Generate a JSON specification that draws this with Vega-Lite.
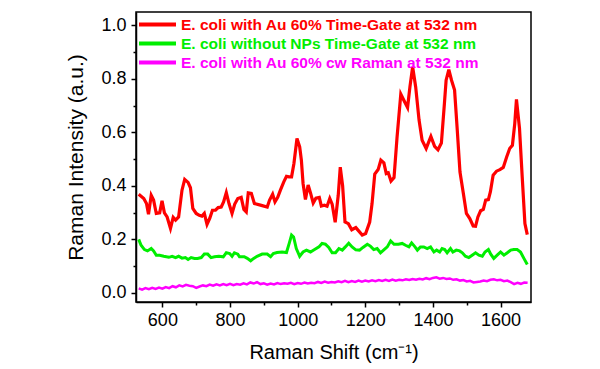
{
  "$schema": "https://vega.github.io/schema/vega-lite/v6.json",
  "width": 395,
  "height": 290,
  "autosize": {"type": "none"},
  "padding": {"left": 136, "top": 12, "right": 69, "bottom": 67},
  "background": "white",
  "config": {
    "view": {"stroke": "black", "strokeWidth": 1.5},
    "axis": {
      "domainColor": "black", "domainWidth": 1.5, "tickColor": "black", "tickWidth": 1.5,
      "labelColor": "black", "titleColor": "black", "grid": false,
      "labelFont": "Liberation Sans", "labelFontSize": 18,
      "titleFont": "Liberation Sans", "titleFontSize": 20, "titleFontWeight": "normal"
    },
    "legend": {
      "labelFont": "Liberation Sans", "labelFontSize": 15.5, "labelFontWeight": "bold"
    }
  },
  "datasets": {
    "red": [
      {"x":530,"y":0.369},{"x":545,"y":0.353},{"x":553,"y":0.334},{"x":559,"y":0.294},{"x":567,"y":0.365},{"x":574,"y":0.347},{"x":582,"y":0.297},{"x":592,"y":0.299},{"x":599,"y":0.344},{"x":606,"y":0.299},{"x":614,"y":0.284},{"x":624,"y":0.241},{"x":632,"y":0.282},{"x":639,"y":0.272},{"x":648,"y":0.284},{"x":658,"y":0.384},{"x":666,"y":0.424},{"x":676,"y":0.413},{"x":683,"y":0.393},{"x":690,"y":0.316},{"x":700,"y":0.297},{"x":709,"y":0.29},{"x":717,"y":0.287},{"x":724,"y":0.297},{"x":732,"y":0.256},{"x":740,"y":0.278},{"x":748,"y":0.309},{"x":757,"y":0.309},{"x":765,"y":0.319},{"x":774,"y":0.321},{"x":781,"y":0.34},{"x":789,"y":0.375},{"x":797,"y":0.334},{"x":806,"y":0.297},{"x":814,"y":0.332},{"x":823,"y":0.353},{"x":833,"y":0.357},{"x":841,"y":0.312},{"x":848,"y":0.303},{"x":854,"y":0.374},{"x":863,"y":0.372},{"x":872,"y":0.334},{"x":890,"y":0.328},{"x":910,"y":0.321},{"x":917,"y":0.347},{"x":926,"y":0.369},{"x":933,"y":0.34},{"x":941,"y":0.357},{"x":949,"y":0.384},{"x":959,"y":0.415},{"x":967,"y":0.436},{"x":974,"y":0.434},{"x":982,"y":0.434},{"x":989,"y":0.484},{"x":998,"y":0.577},{"x":1006,"y":0.546},{"x":1011,"y":0.496},{"x":1016,"y":0.409},{"x":1023,"y":0.349},{"x":1031,"y":0.403},{"x":1038,"y":0.374},{"x":1046,"y":0.336},{"x":1054,"y":0.354},{"x":1064,"y":0.357},{"x":1070,"y":0.325},{"x":1079,"y":0.328},{"x":1087,"y":0.324},{"x":1095,"y":0.353},{"x":1102,"y":0.332},{"x":1111,"y":0.264},{"x":1120,"y":0.365},{"x":1126,"y":0.47},{"x":1133,"y":0.4},{"x":1140,"y":0.265},{"x":1150,"y":0.259},{"x":1160,"y":0.236},{"x":1172,"y":0.244},{"x":1181,"y":0.231},{"x":1191,"y":0.216},{"x":1201,"y":0.222},{"x":1213,"y":0.265},{"x":1220,"y":0.334},{"x":1228,"y":0.444},{"x":1238,"y":0.461},{"x":1246,"y":0.496},{"x":1255,"y":0.486},{"x":1262,"y":0.446},{"x":1268,"y":0.449},{"x":1276,"y":0.418},{"x":1285,"y":0.431},{"x":1294,"y":0.583},{"x":1305,"y":0.743},{"x":1314,"y":0.72},{"x":1325,"y":0.693},{"x":1332,"y":0.77},{"x":1340,"y":0.845},{"x":1349,"y":0.77},{"x":1359,"y":0.646},{"x":1368,"y":0.571},{"x":1380,"y":0.54},{"x":1394,"y":0.585},{"x":1405,"y":0.548},{"x":1415,"y":0.535},{"x":1425,"y":0.56},{"x":1434,"y":0.708},{"x":1439,"y":0.795},{"x":1447,"y":0.835},{"x":1455,"y":0.795},{"x":1464,"y":0.758},{"x":1472,"y":0.608},{"x":1480,"y":0.452},{"x":1490,"y":0.372},{"x":1499,"y":0.297},{"x":1509,"y":0.278},{"x":1519,"y":0.25},{"x":1526,"y":0.249},{"x":1533,"y":0.284},{"x":1541,"y":0.307},{"x":1549,"y":0.312},{"x":1556,"y":0.347},{"x":1564,"y":0.349},{"x":1570,"y":0.378},{"x":1578,"y":0.44},{"x":1588,"y":0.455},{"x":1598,"y":0.461},{"x":1608,"y":0.469},{"x":1618,"y":0.508},{"x":1627,"y":0.54},{"x":1635,"y":0.552},{"x":1642,"y":0.633},{"x":1647,"y":0.723},{"x":1656,"y":0.615},{"x":1664,"y":0.434},{"x":1672,"y":0.259},{"x":1679,"y":0.218}
    ],
    "green": [
      {"x":530,"y":0.2},{"x":537,"y":0.178},{"x":547,"y":0.162},{"x":556,"y":0.157},{"x":567,"y":0.166},{"x":574,"y":0.157},{"x":582,"y":0.141},{"x":592,"y":0.141},{"x":604,"y":0.137},{"x":619,"y":0.133},{"x":629,"y":0.137},{"x":639,"y":0.132},{"x":648,"y":0.137},{"x":658,"y":0.13},{"x":668,"y":0.132},{"x":676,"y":0.125},{"x":685,"y":0.132},{"x":695,"y":0.129},{"x":704,"y":0.129},{"x":715,"y":0.132},{"x":724,"y":0.145},{"x":734,"y":0.145},{"x":744,"y":0.132},{"x":754,"y":0.135},{"x":767,"y":0.137},{"x":780,"y":0.135},{"x":789,"y":0.15},{"x":799,"y":0.147},{"x":806,"y":0.137},{"x":813,"y":0.15},{"x":823,"y":0.145},{"x":828,"y":0.135},{"x":842,"y":0.135},{"x":851,"y":0.129},{"x":861,"y":0.12},{"x":870,"y":0.129},{"x":880,"y":0.137},{"x":895,"y":0.145},{"x":910,"y":0.145},{"x":920,"y":0.135},{"x":928,"y":0.147},{"x":939,"y":0.151},{"x":954,"y":0.153},{"x":967,"y":0.151},{"x":975,"y":0.185},{"x":982,"y":0.216},{"x":988,"y":0.209},{"x":996,"y":0.166},{"x":1006,"y":0.137},{"x":1016,"y":0.153},{"x":1026,"y":0.16},{"x":1038,"y":0.153},{"x":1050,"y":0.162},{"x":1063,"y":0.172},{"x":1072,"y":0.185},{"x":1082,"y":0.182},{"x":1092,"y":0.17},{"x":1102,"y":0.15},{"x":1112,"y":0.15},{"x":1122,"y":0.166},{"x":1132,"y":0.16},{"x":1141,"y":0.172},{"x":1151,"y":0.186},{"x":1161,"y":0.172},{"x":1172,"y":0.161},{"x":1183,"y":0.16},{"x":1193,"y":0.17},{"x":1206,"y":0.182},{"x":1215,"y":0.175},{"x":1225,"y":0.162},{"x":1235,"y":0.166},{"x":1245,"y":0.15},{"x":1254,"y":0.16},{"x":1265,"y":0.172},{"x":1275,"y":0.194},{"x":1285,"y":0.182},{"x":1298,"y":0.182},{"x":1309,"y":0.185},{"x":1319,"y":0.178},{"x":1329,"y":0.172},{"x":1337,"y":0.187},{"x":1347,"y":0.172},{"x":1354,"y":0.16},{"x":1363,"y":0.172},{"x":1373,"y":0.172},{"x":1383,"y":0.166},{"x":1393,"y":0.172},{"x":1403,"y":0.153},{"x":1411,"y":0.16},{"x":1420,"y":0.153},{"x":1427,"y":0.166},{"x":1435,"y":0.162},{"x":1442,"y":0.15},{"x":1452,"y":0.166},{"x":1459,"y":0.153},{"x":1469,"y":0.16},{"x":1479,"y":0.157},{"x":1487,"y":0.15},{"x":1496,"y":0.137},{"x":1506,"y":0.132},{"x":1516,"y":0.141},{"x":1526,"y":0.15},{"x":1536,"y":0.141},{"x":1546,"y":0.137},{"x":1554,"y":0.153},{"x":1564,"y":0.162},{"x":1571,"y":0.145},{"x":1580,"y":0.129},{"x":1590,"y":0.141},{"x":1600,"y":0.153},{"x":1610,"y":0.141},{"x":1620,"y":0.15},{"x":1630,"y":0.16},{"x":1639,"y":0.162},{"x":1649,"y":0.162},{"x":1659,"y":0.153},{"x":1669,"y":0.129},{"x":1679,"y":0.106}
    ],
    "magenta": [
      {"x":530,"y":0.017},{"x":540,"y":0.012},{"x":550,"y":0.018},{"x":560,"y":0.014},{"x":570,"y":0.019},{"x":580,"y":0.015},{"x":590,"y":0.02},{"x":600,"y":0.016},{"x":610,"y":0.022},{"x":620,"y":0.018},{"x":630,"y":0.025},{"x":640,"y":0.021},{"x":650,"y":0.028},{"x":660,"y":0.024},{"x":670,"y":0.03},{"x":680,"y":0.027},{"x":690,"y":0.025},{"x":700,"y":0.019},{"x":710,"y":0.024},{"x":720,"y":0.028},{"x":730,"y":0.025},{"x":740,"y":0.031},{"x":750,"y":0.027},{"x":760,"y":0.032},{"x":770,"y":0.028},{"x":780,"y":0.033},{"x":790,"y":0.029},{"x":800,"y":0.034},{"x":810,"y":0.029},{"x":820,"y":0.033},{"x":830,"y":0.031},{"x":840,"y":0.036},{"x":850,"y":0.032},{"x":860,"y":0.039},{"x":870,"y":0.035},{"x":880,"y":0.04},{"x":890,"y":0.033},{"x":900,"y":0.036},{"x":910,"y":0.031},{"x":920,"y":0.035},{"x":930,"y":0.032},{"x":940,"y":0.037},{"x":950,"y":0.033},{"x":960,"y":0.036},{"x":970,"y":0.034},{"x":980,"y":0.038},{"x":990,"y":0.033},{"x":1000,"y":0.037},{"x":1010,"y":0.034},{"x":1020,"y":0.039},{"x":1030,"y":0.035},{"x":1040,"y":0.038},{"x":1050,"y":0.036},{"x":1060,"y":0.041},{"x":1070,"y":0.037},{"x":1080,"y":0.042},{"x":1090,"y":0.038},{"x":1100,"y":0.041},{"x":1110,"y":0.039},{"x":1120,"y":0.043},{"x":1130,"y":0.04},{"x":1140,"y":0.045},{"x":1150,"y":0.04},{"x":1160,"y":0.044},{"x":1170,"y":0.041},{"x":1180,"y":0.046},{"x":1190,"y":0.042},{"x":1200,"y":0.046},{"x":1210,"y":0.043},{"x":1220,"y":0.047},{"x":1230,"y":0.044},{"x":1240,"y":0.048},{"x":1250,"y":0.045},{"x":1260,"y":0.049},{"x":1270,"y":0.045},{"x":1280,"y":0.05},{"x":1290,"y":0.046},{"x":1300,"y":0.049},{"x":1310,"y":0.047},{"x":1320,"y":0.051},{"x":1330,"y":0.048},{"x":1340,"y":0.052},{"x":1350,"y":0.049},{"x":1360,"y":0.053},{"x":1370,"y":0.05},{"x":1380,"y":0.055},{"x":1390,"y":0.051},{"x":1400,"y":0.056},{"x":1410,"y":0.058},{"x":1420,"y":0.053},{"x":1430,"y":0.056},{"x":1440,"y":0.052},{"x":1450,"y":0.054},{"x":1460,"y":0.049},{"x":1470,"y":0.051},{"x":1480,"y":0.046},{"x":1490,"y":0.048},{"x":1500,"y":0.043},{"x":1510,"y":0.045},{"x":1520,"y":0.039},{"x":1530,"y":0.041},{"x":1540,"y":0.043},{"x":1550,"y":0.046},{"x":1560,"y":0.044},{"x":1570,"y":0.049},{"x":1580,"y":0.051},{"x":1590,"y":0.047},{"x":1600,"y":0.049},{"x":1610,"y":0.044},{"x":1620,"y":0.046},{"x":1630,"y":0.04},{"x":1640,"y":0.033},{"x":1650,"y":0.038},{"x":1660,"y":0.034},{"x":1670,"y":0.039},{"x":1680,"y":0.038}
    ]
  },
  "resolve": {"axis": {"x": "independent", "y": "independent"}},
  "layer": [
    {
      "layer": [
        {
          "data": {"name": "magenta"},
          "mark": {"type": "line", "strokeWidth": 2.5},
          "encoding": {
            "x": {"field": "x", "type": "quantitative"},
            "y": {"field": "y", "type": "quantitative"},
            "color": {"datum": "E. coli with Au 60% cw Raman at 532 nm"}
          }
        },
        {
          "data": {"name": "green"},
          "mark": {"type": "line", "strokeWidth": 3},
          "encoding": {
            "x": {"field": "x", "type": "quantitative"},
            "y": {"field": "y", "type": "quantitative"},
            "color": {"datum": "E. coli without NPs Time-Gate at 532 nm"}
          }
        },
        {
          "data": {"name": "red"},
          "mark": {"type": "line", "strokeWidth": 3.2},
          "encoding": {
            "x": {
              "field": "x", "type": "quantitative",
              "scale": {"domain": [522, 1690], "nice": false, "zero": false},
              "axis": {"orient": "bottom", "values": [600, 800, 1000, 1200, 1400, 1600], "format": "d", "tickSize": 5, "labelPadding": 4, "title": "Raman Shift (cm⁻¹)", "titlePadding": 13, "labelFlush": false}
            },
            "y": {
              "field": "y", "type": "quantitative",
              "scale": {"domain": [-0.034, 1.05], "nice": false, "zero": false},
              "axis": {"orient": "left", "values": [0, 0.2, 0.4, 0.6, 0.8, 1.0], "format": ".1f", "tickSize": 5, "labelPadding": 5, "title": "Raman Intensity (a.u.)", "titleFontSize": 21, "titlePadding": 14, "labelFlush": false}
            },
            "color": {
              "datum": "E. coli with Au 60% Time-Gate at 532 nm",
              "scale": {
                "domain": ["E. coli with Au 60% Time-Gate at 532 nm", "E. coli without NPs Time-Gate at 532 nm", "E. coli with Au 60% cw Raman at 532 nm"],
                "range": ["#ff0000", "#00ee00", "#ff00ff"]
              },
              "legend": {
                "orient": "none", "legendX": 1, "legendY": 3, "title": null,
                "symbolType": "stroke", "symbolSize": 1369, "symbolStrokeWidth": 4,
                "labelOffset": 3, "clipHeight": 19, "rowPadding": 0, "padding": 0,
                "labelLimit": 400,
                "encode": {"labels": {"update": {"fill": {"signal": "scale('color', datum.value)"}}}}
              }
            }
          }
        }
      ]
    },
    {
      "data": {"name": "red"},
      "mark": {"type": "line", "strokeOpacity": 0},
      "encoding": {
        "x": {"field": "x", "type": "quantitative", "axis": {"orient": "bottom", "values": [700, 900, 1100, 1300, 1500], "labels": false, "domain": false, "tickSize": 3, "title": null}},
        "y": {"field": "y", "type": "quantitative", "axis": {"orient": "left", "values": [0.1, 0.3, 0.5, 0.7, 0.9], "labels": false, "domain": false, "tickSize": 3, "title": null}}
      }
    }
  ]
}
